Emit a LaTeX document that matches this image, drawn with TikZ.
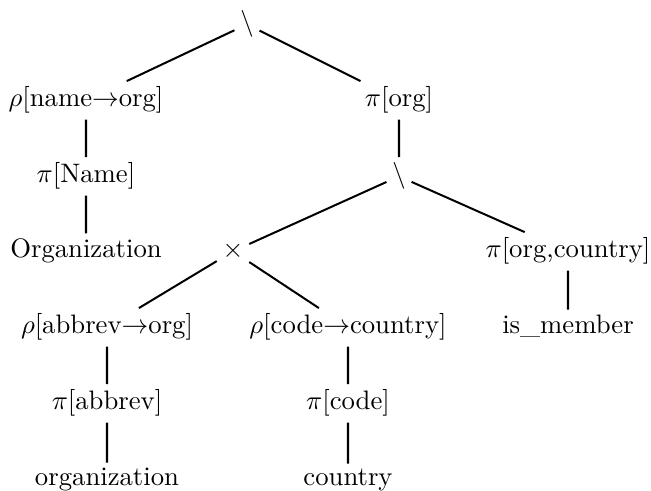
\documentclass[tikz,border=0pt]{standalone}
\usepackage{tikz}
\usepackage{amssymb}
\begin{document}
\begin{tikzpicture}[x=0.3745pt,y=-0.3745pt]
        \tikzstyle{every node}=[inner sep=2pt,anchor=base]
        \useasboundingbox (0,0) rectangle (651,491);
            \node (diffa) at (247,31) {$\setminus$};
            \node (rnorg) at (86,107) {$\rho$[name$\to$org]};
            \node (porg) at (399,107) {$\pi$[org]};
            \node (pname) at (86,183) {$\pi$[Name]};
            \node (diffb) at (399,183) {$\setminus$};
            \node (orgbig) at (86,258) {Organization};
            \node (prod) at (233,258) {$\times$};
            \node (porgc) at (568,258) {$\pi$[org,country]};
            \node (rabbr) at (107,334) {$\rho$[abbrev$\to$org]};
            \node (rcode) at (348,334) {$\rho$[code$\to$country]};
            \node (ismem) at (568,334) {is\_member};
            \node (pabbr) at (107,410) {$\pi$[abbrev]};
            \node (pcode) at (348,410) {$\pi$[code]};
            \node (orgsm) at (107,486) {organization};
            \node (cntry) at (348,486) {country};

            \draw[line width=0.75pt] (diffa) -- (rnorg)
            (diffa) -- (porg)
            (rnorg) -- (pname)
            (pname) -- (orgbig)
            (porg) -- (diffb)
            (diffb) -- (prod)
            (diffb) -- (porgc)
            (porgc) -- (ismem)
            (prod) -- (rabbr)
            (prod) -- (rcode)
            (rabbr) -- (pabbr)
            (pabbr) -- (orgsm)
            (rcode) -- (pcode)
            (pcode) -- (cntry)
            ;
        \end{tikzpicture}
\end{document}
